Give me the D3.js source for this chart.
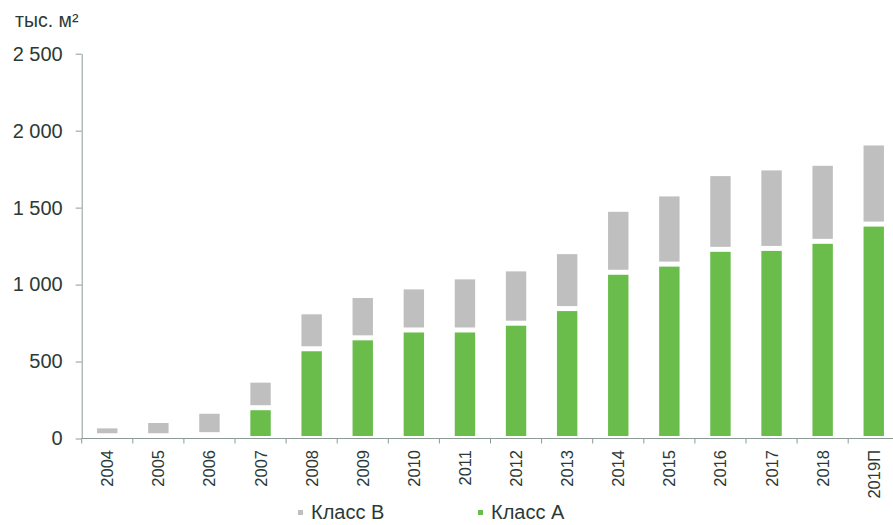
<!DOCTYPE html>
<html>
<head>
<meta charset="utf-8">
<script src="https://cdn.jsdelivr.net/npm/d3@7"></script>
<style>
  body { margin: 0; background: #fff; }
  text { font-family: "Liberation Sans", Arial, sans-serif; fill: #2b3a36; }
</style>
</head>
<body>
<div id="chart"></div>
<script>
// data (тыс. м²)
var years = ["2004", "2005", "2006", "2007", "2008", "2009", "2010", "2011",
             "2012", "2013", "2014", "2015", "2016", "2017", "2018", "2019П"];
var classA = [18, 18, 25, 200, 583, 654, 705, 705, 749, 844, 1080, 1133, 1229, 1235, 1281, 1393];
var classB = [64, 99, 152, 179, 240, 275, 280, 345, 353, 370, 409, 456, 492, 523, 507, 527];
var yTicks = [0, 500, 1000, 1500, 2000, 2500];
var seriesNames = ["Класс В", "Класс А"];

var width = 893, height = 525;
var colorA = "#6abd4b", colorB = "#bfbfbf", axisColor = "#8d9b97";

var svg = d3.select("#chart").append("svg")
    .attr("width", width)
    .attr("height", height);

var left = 81.7, step = 51.1, barW = 21;
var x = d3.scaleBand()
    .domain(years)
    .range([left, left + step * years.length])
    .paddingInner(1 - barW / step)
    .paddingOuter((1 - barW / step) / 2);

var y = d3.scaleLinear()
    .domain([0, 2500])
    .range([438.5, 53.7]);

// stacked bars, white gap between segments
var gap = 2.5;
var rows = years.map(function (d, i) {
    return { year: d, a: classA[i], b: classB[i] };
});

var g = svg.append("g");
rows.forEach(function (r) {
    var segs = [
        { y0: 0, y1: r.a, color: colorA },
        { y0: r.a, y1: r.a + r.b, color: colorB }
    ];
    segs.forEach(function (s) {
        var top = y(s.y1) + gap, bottom = y(s.y0) - gap;
        if (bottom - top <= 0) return;
        g.append("rect")
            .attr("x", x(r.year) + 0.3)
            .attr("width", x.bandwidth() - 0.6)
            .attr("y", top)
            .attr("height", bottom - top)
            .attr("fill", s.color);
    });
});

// y axis
var yAxis = svg.append("g")
    .attr("transform", "translate(" + left + ",0)")
    .call(d3.axisLeft(y)
        .tickValues(yTicks)
        .tickSize(6)
        .tickSizeOuter(0)
        .tickPadding(13)
        .tickFormat(function (d) { return d3.format(",")(d).replace(",", " "); }));
yAxis.select(".domain").attr("stroke", axisColor);
yAxis.selectAll(".tick line").attr("stroke", axisColor);
yAxis.selectAll(".tick text")
    .attr("fill", "#2b3a36")
    .style("font-size", "20px")
    .style("font-family", "'Liberation Sans', Arial, sans-serif");

// x axis line
svg.append("line")
    .attr("x1", left).attr("x2", width)
    .attr("y1", y(0)).attr("y2", y(0))
    .attr("stroke", axisColor);

// category boundary ticks
svg.selectAll(".xtick")
    .data(d3.range(years.length + 1))
    .enter().append("line")
    .attr("class", "xtick")
    .attr("x1", function (i) { return left + i * step; })
    .attr("x2", function (i) { return left + i * step; })
    .attr("y1", y(0))
    .attr("y2", y(0) + 5)
    .attr("stroke", axisColor);

// rotated year labels
svg.selectAll(".xlabel")
    .data(years)
    .enter().append("text")
    .attr("class", "xlabel")
    .attr("transform", function (d) {
        return "translate(" + (x(d) + x.bandwidth() / 2 + 6) + "," + 450 + ") rotate(-90)";
    })
    .attr("text-anchor", "end")
    .style("font-size", "16.5px")
    .text(function (d) { return d; });

// unit label
svg.append("text")
    .attr("x", 15)
    .attr("y", 27)
    .style("font-size", "19.5px")
    .text("тыс. м²");

// legend
var legend = [
    { name: seriesNames[0], color: colorB, x: 298 },
    { name: seriesNames[1], color: colorA, x: 478 }
];
legend.forEach(function (l) {
    svg.append("rect")
        .attr("x", l.x).attr("y", 510)
        .attr("width", 5).attr("height", 5)
        .attr("fill", l.color);
    svg.append("text")
        .attr("x", l.x + 13)
        .attr("y", 519)
        .style("font-size", "20px")
        .text(l.name);
});
</script>
</body>
</html>
